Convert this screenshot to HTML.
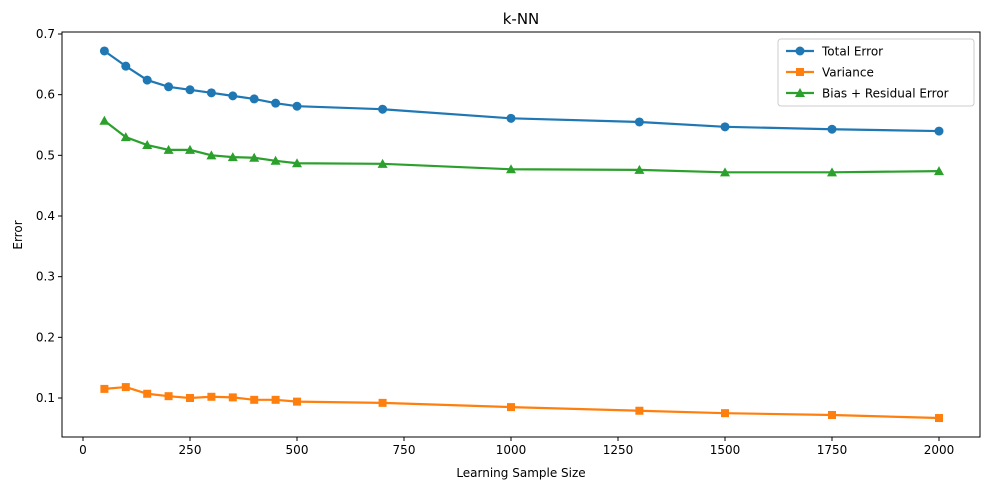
<!DOCTYPE html>
<html><head><meta charset="utf-8"><style>
body{margin:0;background:#fff;font-family:"Liberation Sans","DejaVu Sans",sans-serif}
svg text{font-family:"DejaVu Sans","Liberation Sans",sans-serif}
</style></head><body>
<svg id="chart" width="991" height="488"></svg>
<script>
const xValues=[50,100,150,200,250,300,350,400,450,500,700,1000,1300,1500,1750,2000];
const totalError=[0.672,0.647,0.624,0.613,0.608,0.603,0.598,0.593,0.586,0.581,0.576,0.561,0.555,0.547,0.543,0.540];
const variance=[0.115,0.118,0.107,0.103,0.100,0.102,0.101,0.097,0.097,0.094,0.092,0.085,0.079,0.075,0.072,0.067];
const biasResidual=[0.557,0.530,0.517,0.509,0.509,0.500,0.497,0.496,0.491,0.487,0.486,0.477,0.476,0.472,0.472,0.474];
const xTicks=[0,250,500,750,1000,1250,1500,1750,2000];
const yTicks=[0.1,0.2,0.3,0.4,0.5,0.6,0.7];

const NS="http://www.w3.org/2000/svg";
const svg=document.getElementById('chart');
const L=62,R=980,T=32,B=437;
const sx=v=>83+v*0.428;
const sy=v=>398-(v-0.1)*606.67;
function mk(tag,attrs,parent){const e=document.createElementNS(NS,tag);for(const k in attrs)e.setAttribute(k,attrs[k]);(parent||svg).appendChild(e);return e;}

const frame=mk('rect',{x:L,y:T,width:R-L,height:B-T,fill:'none',stroke:'#000','stroke-width':1});



xTicks.forEach(t=>{
  const x=sx(t);
  const tk=mk('line',{x1:x,x2:x,y1:B,y2:B+4,stroke:'#000'});
  
  
  const lb=mk('text',{x:x,y:B+17,'text-anchor':'middle','font-size':12});
  lb.textContent=t;
  
  
});
yTicks.forEach(t=>{
  const y=sy(t);
  const tk=mk('line',{x1:L-4,x2:L,y1:y,y2:y,stroke:'#000'});
  
  
  const lb=mk('text',{x:L-7,y:y+4,'text-anchor':'end','font-size':12});
  lb.textContent=t.toFixed(1);
  
  
});

const title=mk('text',{x:521,y:24,'text-anchor':'middle','font-size':15});
title.textContent='k-NN';


const xt=mk('text',{x:521,y:477,'text-anchor':'middle','font-size':12});
xt.textContent='Learning Sample Size';


const yt=mk('text',{x:22,y:235,'text-anchor':'middle','font-size':12,transform:'rotate(-90 22 235)'});
yt.textContent='Error';



function marker(type,x,y,color,g){
  let m;
  if(type==='o')m=mk('circle',{cx:x,cy:y,r:4.5,fill:color},g);
  else if(type==='s')m=mk('rect',{x:x-4,y:y-4,width:8,height:8,fill:color},g);
  else m=mk('polygon',{points:`${x},${y-5} ${x-5},${y+4} ${x+5},${y+4}`,fill:color},g);
  return m;
}
function series(vals,color,type,name){
  const g=mk('g',{});
  
  
  const pl=mk('polyline',{points:vals.map((v,i)=>sx(xValues[i])+','+sy(v)).join(' '),fill:'none',stroke:color,'stroke-width':2.2},g);
  
  
  vals.forEach((v,i)=>{
    const m=marker(type,sx(xValues[i]),sy(v),color,g);
    
    
  });
}
series(totalError,'#1f77b4','o','total-error');
series(variance,'#ff7f0e','s','variance');
series(biasResidual,'#2ca02c','^','bias-residual');

const lg=mk('g',{});


mk('rect',{x:778,y:39,width:196,height:67,rx:3,fill:'#fff',stroke:'#ccc'},lg);
const entries=[['Total Error','#1f77b4','o'],['Variance','#ff7f0e','s'],['Bias + Residual Error','#2ca02c','^']];
entries.forEach((e,i)=>{
  const y=51+i*21;
  const eg=mk('g',{},lg);
  
  
  mk('line',{x1:786,x2:814,y1:y,y2:y,stroke:e[1],'stroke-width':2.2},eg);
  marker(e[2],800,y,e[1],eg);
  const t=mk('text',{x:822,y:y+4.5,'font-size':12},eg);
  t.textContent=e[0];
});
</script>
</body></html>
